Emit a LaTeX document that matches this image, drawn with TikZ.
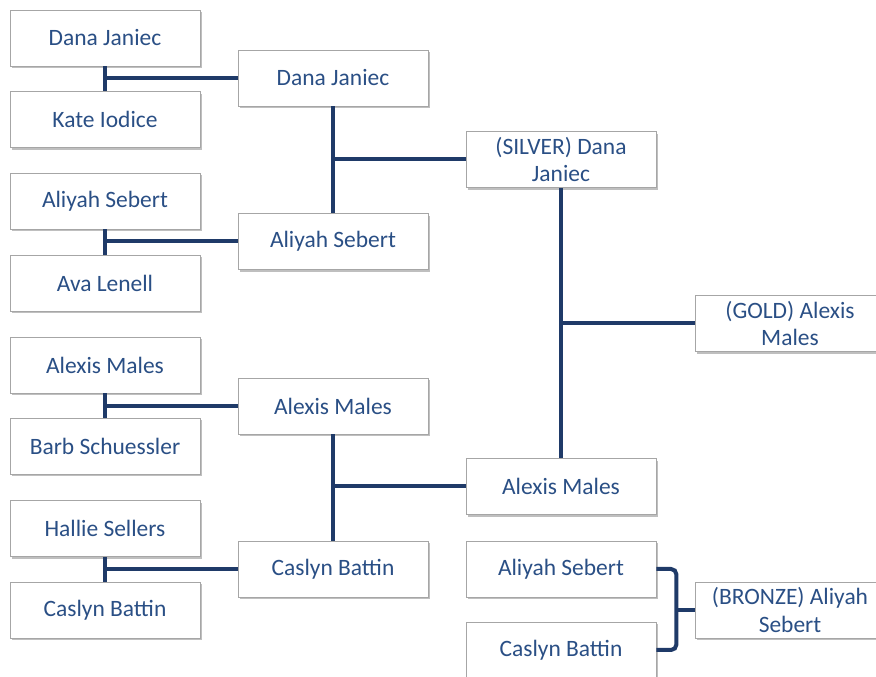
\documentclass[tikz,border=0pt]{standalone}
\usepackage{fontspec}
\setmainfont{Carlito}
\usetikzlibrary{shadows,calc}
\definecolor{navy}{HTML}{1F3A68}
\definecolor{nametext}{HTML}{2A4F85}
\tikzset{
	entry/.style={draw=gray!70, line width=0.6pt, fill=white, text=nametext,
		minimum width=142.5pt, minimum height=42pt, inner sep=2pt, align=center,
		font=\fontsize{17.6}{20.5}\selectfont,
		drop shadow={shadow xshift=1.8pt, shadow yshift=-1.8pt, opacity=0.25, fill=black}},
	link/.style={draw=navy, line width=3pt}
}
\begin{document}
\begin{tikzpicture}[x=0.75pt,y=-0.75pt]
				\useasboundingbox (0,0) rectangle (876,677);
				% first round
				\node[entry] (r1a) at (105,38) {Dana Janiec};
				\node[entry] (r1b) at (105,119.5) {Kate Iodice};
				\node[entry] (r1c) at (105,201) {Aliyah Sebert};
				\node[entry] (r1d) at (105,283) {Ava Lenell};
				\node[entry] (r1e) at (105,365) {Alexis Males};
				\node[entry] (r1f) at (105,446) {Barb Schuessler};
				\node[entry] (r1g) at (105,528.5) {Hallie Sellers};
				\node[entry] (r1h) at (105,610) {Caslyn Battin};
				% second round
				\node[entry] (r2a) at (333,78) {Dana Janiec};
				\node[entry] (r2b) at (333,241.5) {Aliyah Sebert};
				\node[entry] (r2c) at (333,406) {Alexis Males};
				\node[entry] (r2d) at (333,569) {Caslyn Battin};
				% semis and finals
				\node[entry] (silver) at (561,159.5) {(SILVER) Dana\\Janiec};
				\node[entry] (r3b) at (561,486.5) {Alexis Males};
				\node[entry] (r3c) at (561,569) {Aliyah Sebert};
				\node[entry] (r3d) at (561,650) {Caslyn Battin};
				\node[entry] (gold) at (790,323.5) {(GOLD) Alexis\\Males};
				\node[entry] (bronze) at (790,610) {(BRONZE) Aliyah\\Sebert};
				% brackets
				\draw[link] (r1a.south) -- (r1b.north);
				\draw[link] (r2a.west -| r1a.south) -- (r2a.west);
				\draw[link] (r1c.south) -- (r1d.north);
				\draw[link] (r2b.west -| r1c.south) -- (r2b.west);
				\draw[link] (r1e.south) -- (r1f.north);
				\draw[link] (r2c.west -| r1e.south) -- (r2c.west);
				\draw[link] (r1g.south) -- (r1h.north);
				\draw[link] (r2d.west -| r1g.south) -- (r2d.west);
				\draw[link] (r2a.south) -- (r2b.north);
				\draw[link] (silver.west -| r2a.south) -- (silver.west);
				\draw[link] (r2c.south) -- (r2d.north);
				\draw[link] (r3b.west -| r2c.south) -- (r3b.west);
				\draw[link] (silver.south) -- (r3b.north);
				\draw[link] (gold.west -| silver.south) -- (gold.west);
				\draw[link, rounded corners=4pt] (r3c.east) -- ++(20,0) coordinate (turn) |- (r3d.east);
				\draw[link] (bronze.west -| turn) -- (bronze.west);
			\end{tikzpicture}
\end{document}
